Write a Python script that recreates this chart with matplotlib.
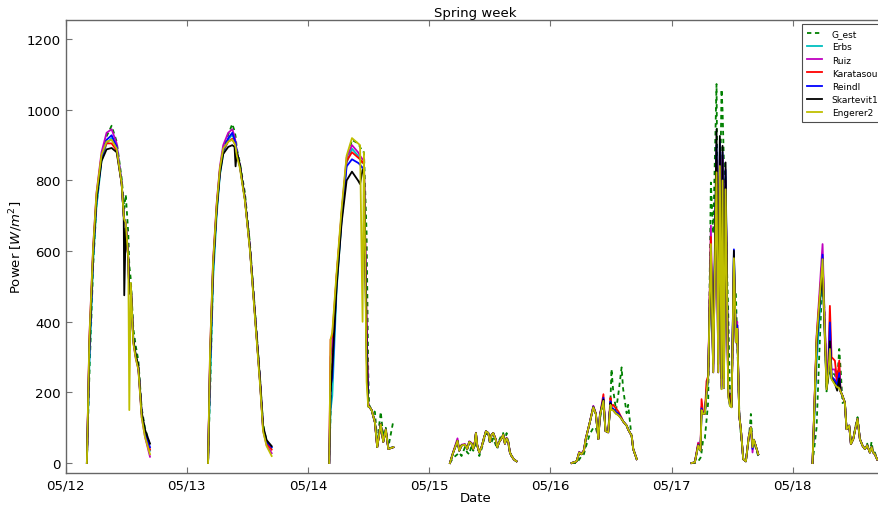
import numpy as np
import pandas as pd
import matplotlib
matplotlib.use('Agg')
import matplotlib.pyplot as plt
import matplotlib.dates as mdates

# --- data (hours of the day, W/m^2) ---
day_starts = pd.date_range('2015-05-12', periods=7, freq='D')
labels = ['G_est', 'Erbs', 'Ruiz', 'Karatasou', 'Reindl', 'Skartevit1', 'Engerer2']

# 05/12
d1_hours = [4.2, 4.7, 5.45, 6.1, 7.1, 8.1, 9.1, 10.1, 11.1, 11.5, 11.6, 11.9, 12.4, 12.6, 12.9, 13.4, 13.9, 14.4, 15.05, 15.7, 16.7]
d1_gest = [5, 250, 560, 730, 860, 925, 955, 910, 805, 740, 720, 760, 650, 560, 520, 380, 330, 290, 155, 100, 50]
d1_erbs = [0, 280, 570, 725, 855, 905, 920, 895, 790, 700, 690, 680, 580, 480, 505, 350, 300, 270, 140, 85, 35]
d1_ruiz = [0, 360, 615, 765, 880, 935, 945, 905, 790, 700, 690, 680, 580, 480, 500, 340, 295, 265, 130, 75, 18]
d1_kara = [0, 345, 605, 755, 870, 905, 905, 885, 790, 700, 690, 680, 580, 480, 505, 345, 300, 270, 140, 85, 38]
d1_reindl = [0, 320, 595, 745, 862, 915, 928, 895, 790, 700, 690, 680, 580, 480, 505, 345, 300, 270, 140, 88, 45]
d1_skart = [0, 330, 595, 745, 855, 888, 892, 880, 790, 700, 475, 665, 580, 480, 505, 350, 305, 275, 145, 95, 55]
d1_enger = [0, 355, 612, 762, 872, 910, 915, 890, 790, 700, 690, 680, 580, 150, 510, 340, 295, 265, 130, 75, 25]

# 05/13
d2_hours = [4.2, 4.6, 5.2, 5.9, 6.55, 7.2, 8.2, 9.0, 9.45, 9.65, 9.9, 10.5, 11.5, 12.5, 13.5, 14.5, 15.1, 15.8, 16.8]
d2_gest = [5, 200, 540, 720, 830, 890, 930, 960, 940, 925, 890, 850, 765, 620, 430, 240, 110, 60, 40]
d2_erbs = [0, 220, 520, 700, 815, 875, 915, 930, 915, 905, 880, 841, 747, 606, 417, 228, 100, 62, 45]
d2_ruiz = [0, 320, 575, 735, 840, 900, 935, 945, 925, 910, 880, 841, 747, 606, 417, 228, 92, 50, 28]
d2_kara = [0, 300, 565, 725, 830, 885, 910, 918, 905, 900, 875, 841, 747, 606, 417, 228, 96, 56, 38]
d2_reindl = [0, 280, 555, 720, 825, 885, 920, 935, 915, 905, 880, 841, 747, 606, 417, 228, 98, 60, 45]
d2_skart = [0, 290, 555, 715, 820, 875, 895, 900, 895, 840, 880, 845, 750, 610, 420, 235, 105, 65, 48]
d2_enger = [0, 320, 570, 730, 835, 890, 910, 915, 905, 895, 870, 835, 742, 600, 410, 220, 90, 48, 20]

# 05/14
d3_hours = [4.2, 4.47, 4.8, 5.66, 6.65, 7.64, 8.7, 9.9, 10.3, 10.8, 11.07, 11.6, 11.92, 12.1, 12.6, 13.25, 13.7, 14.4, 14.9, 15.4, 15.9, 16.9]
d3_gest = [0, 150, 280, 520, 700, 850, 915, 905, 895, 880, 880, 650, 260, 165, 150, 145, 60, 145, 75, 100, 45, 120]
d3_erbs = [0, 150, 190, 490, 690, 850, 890, 870, 860, 850, 850, 380, 170, 160, 150, 115, 50, 110, 65, 95, 42, 45]
d3_ruiz = [0, 300, 330, 530, 710, 865, 900, 880, 870, 860, 860, 360, 165, 160, 150, 115, 45, 110, 60, 95, 40, 45]
d3_kara = [0, 350, 360, 530, 705, 855, 880, 865, 860, 850, 860, 400, 170, 160, 150, 115, 45, 110, 60, 95, 40, 45]
d3_reindl = [0, 220, 240, 510, 690, 840, 860, 850, 845, 835, 840, 340, 165, 160, 150, 115, 45, 110, 60, 95, 40, 45]
d3_skart = [0, 200, 275, 500, 680, 800, 825, 800, 790, 830, 820, 300, 160, 160, 150, 115, 45, 110, 60, 95, 40, 45]
d3_enger = [0, 350, 370, 540, 720, 870, 920, 905, 900, 400, 880, 230, 160, 160, 150, 115, 45, 110, 60, 95, 40, 45]

# 05/15 (overcast, the models overlap)
d4_hours = [4.1, 4.75, 5.6, 5.95, 6.4, 7.07, 7.53, 7.93, 8.39, 8.72, 9.05, 9.25, 9.51, 9.91, 10.37, 10.83, 11.23,
            11.7, 12.02, 12.35, 12.68, 13.2, 13.47, 13.87, 14.33, 14.66, 14.99, 15.32, 15.65, 15.98, 16.31, 16.78, 17.3]
d4_gest = [0, 15, 25, 30, 20, 45, 30, 25, 50, 35, 45, 80, 55, 20, 40, 65, 85, 80, 55, 60, 70, 50, 40, 65, 80, 85, 60, 85, 55, 30, 20, 10, 5]
d4_models = [0, 30, 63, 35, 50, 52, 40, 60, 55, 40, 60, 85, 50, 30, 45, 70, 90, 85, 60, 80, 85, 65, 45, 60, 70, 80, 55, 70, 60, 30, 20, 10, 5]
d4_ruiz = [0, 32, 70, 37, 52, 54, 42, 62, 57, 42, 62, 86, 52, 31, 46, 71, 90, 85, 60, 80, 85, 68, 45, 60, 70, 80, 55, 72, 60, 30, 20, 10, 5]

# 05/16
d5_hours = [4.2, 5.2, 5.7, 6.17, 6.63, 7.0, 7.8, 8.5, 9.0, 9.5, 9.8, 10.5, 10.9, 11.45, 11.9, 12.1, 12.4, 13.0, 13.5,
            14.1, 14.4, 15.1, 15.4, 16.1, 16.4, 17.1]
d5_gest = [0, 0, 10, 20, 25, 45, 82, 100, 100, 70, 125, 175, 95, 90, 180, 266, 210, 150, 200, 271, 210, 141, 165, 70, 40, 10]
d5_erbs = [0, 5, 30, 25, 35, 68, 115, 158, 139, 68, 134, 178, 91, 87, 168, 152, 152, 142, 137, 125, 118, 106, 95, 77, 40, 11]
d5_ruiz = [0, 5, 32, 27, 38, 70, 115, 162, 140, 68, 135, 180, 91, 87, 170, 152, 152, 142, 137, 126, 118, 106, 95, 77, 40, 11]
d5_kara = [0, 5, 30, 25, 35, 68, 115, 160, 140, 68, 135, 195, 91, 87, 185, 160, 165, 155, 145, 128, 118, 106, 95, 77, 40, 11]
d5_reindl = [0, 5, 30, 25, 35, 68, 115, 160, 140, 68, 135, 185, 91, 87, 175, 155, 155, 145, 140, 126, 118, 106, 95, 77, 40, 11]
d5_skart = [0, 5, 30, 25, 35, 68, 115, 158, 139, 68, 134, 180, 91, 87, 170, 152, 150, 140, 136, 125, 118, 106, 95, 77, 40, 11]
d5_enger = [0, 5, 30, 25, 35, 68, 115, 158, 139, 68, 134, 176, 91, 87, 165, 150, 150, 140, 135, 125, 118, 106, 95, 77, 40, 11]

# 05/17
d6_hours = [3.95, 4.6, 5.27, 5.73, 5.93, 6.26, 6.59, 6.92, 7.25, 7.78, 8.24, 8.9, 9.23, 9.56, 9.89, 10.09, 10.36,
            10.69, 11.22, 11.55, 11.88, 12.34, 12.73, 13.0, 13.4, 13.72, 14.19, 14.71, 15.31, 15.7, 16.03, 16.3, 17.16]
d6_gest = [0, 0, 5, 15, 30, 68, 70, 120, 173, 794, 650, 1073, 500, 700, 1058, 1000, 850, 700, 420, 200, 180, 500, 480,
           350, 150, 80, 15, 5, 70, 139, 50, 60, 20]
d6_erbs = [0, 2, 50, 35, 150, 139, 140, 195, 240, 600, 257, 870, 257, 880, 210, 860, 212, 810, 190, 162, 158, 590, 342,
           385, 134, 96, 11, 5, 77, 101, 45, 66, 25]
d6_ruiz = [0, 2, 58, 38, 160, 139, 140, 210, 247, 672, 257, 860, 257, 880, 210, 870, 212, 800, 190, 165, 158, 570, 342,
           400, 134, 96, 11, 5, 77, 101, 30, 66, 25]
d6_kara = [0, 2, 55, 40, 181, 139, 140, 232, 247, 640, 257, 850, 257, 870, 220, 860, 215, 800, 200, 190, 165, 560, 342,
           390, 134, 96, 11, 5, 77, 101, 45, 66, 25]
d6_reindl = [0, 2, 52, 36, 155, 139, 140, 200, 247, 610, 257, 900, 257, 910, 215, 880, 212, 830, 195, 165, 160, 605, 342,
             390, 134, 96, 11, 5, 77, 101, 40, 66, 25]
d6_skart = [0, 2, 50, 35, 150, 139, 140, 200, 247, 600, 280, 945, 280, 926, 240, 898, 240, 851, 205, 170, 160, 601, 342,
            380, 134, 96, 11, 5, 77, 101, 49, 66, 25]
d6_enger = [0, 2, 50, 35, 150, 139, 140, 200, 247, 620, 257, 823, 257, 841, 209, 800, 212, 775, 190, 162, 158, 580, 342,
            380, 134, 96, 11, 5, 77, 101, 45, 66, 25]

# 05/18
d7_hours = [3.91, 4.71, 5.23, 5.9, 6.29, 6.69, 7.02, 7.35, 7.68, 8.34, 8.8, 9.2, 9.46, 9.86, 10.32, 10.65, 11.18,
            11.51, 11.97, 12.43, 12.83, 13.29, 13.82, 14.28, 14.74, 15.27, 15.6, 15.93, 16.26, 16.72]
d7_gest = [0, 100, 300, 540, 427, 203, 250, 257, 257, 250, 231, 323, 270, 170, 175, 96, 110, 60, 70, 105, 130, 68, 49,
           40, 55, 30, 60, 30, 30, 10]
d7_erbs = [0, 280, 400, 560, 390, 215, 245, 330, 240, 225, 215, 240, 203, 190, 170, 96, 106, 54, 68, 100, 125, 68, 49,
           40, 50, 30, 45, 30, 25, 10]
d7_ruiz = [0, 360, 470, 620, 420, 260, 265, 340, 265, 265, 225, 270, 203, 190, 170, 96, 106, 54, 68, 100, 125, 68, 49,
           40, 50, 30, 45, 30, 25, 10]
d7_kara = [0, 351, 450, 580, 400, 250, 270, 445, 300, 290, 231, 290, 203, 190, 170, 96, 106, 54, 68, 100, 125, 68, 49,
           40, 50, 30, 45, 30, 25, 10]
d7_reindl = [0, 330, 430, 590, 400, 230, 260, 398, 245, 235, 220, 255, 203, 190, 170, 96, 106, 54, 68, 100, 125, 68, 49,
             40, 50, 30, 45, 30, 25, 10]
d7_skart = [0, 340, 440, 540, 380, 209, 240, 345, 240, 225, 205, 240, 203, 190, 170, 96, 106, 54, 68, 100, 125, 68, 49,
            40, 50, 30, 45, 30, 25, 10]
d7_enger = [0, 351, 450, 577, 400, 209, 250, 323, 237, 222, 215, 212, 203, 190, 170, 96, 106, 54, 68, 100, 125, 68, 49,
            40, 50, 30, 45, 30, 25, 10]

day_hours = [d1_hours, d2_hours, d3_hours, d4_hours, d5_hours, d6_hours, d7_hours]
series = [
    [d1_gest, d2_gest, d3_gest, d4_gest, d5_gest, d6_gest, d7_gest],
    [d1_erbs, d2_erbs, d3_erbs, d4_models, d5_erbs, d6_erbs, d7_erbs],
    [d1_ruiz, d2_ruiz, d3_ruiz, d4_ruiz, d5_ruiz, d6_ruiz, d7_ruiz],
    [d1_kara, d2_kara, d3_kara, d4_models, d5_kara, d6_kara, d7_kara],
    [d1_reindl, d2_reindl, d3_reindl, d4_models, d5_reindl, d6_reindl, d7_reindl],
    [d1_skart, d2_skart, d3_skart, d4_models, d5_skart, d6_skart, d7_skart],
    [d1_enger, d2_enger, d3_enger, d4_models, d5_enger, d6_enger, d7_enger],
]

colors = [(0, 0.5, 0), (0, 0.75, 0.75), (0.75, 0, 0.75), (1, 0, 0), (0, 0, 1), (0, 0, 0), (0.75, 0.75, 0)]


def build(per_day):
    # join the days, with a NaN at night so the lines break
    t, v = [], []
    for start, hrs, vals in zip(day_starts, day_hours, per_day):
        t.extend(start + pd.to_timedelta(hrs, unit='h'))
        v.extend(vals)
        t.append(start + pd.Timedelta(hours=22))
        v.append(np.nan)
    return t, np.array(v, dtype=float)


plt.rcParams['font.family'] = 'DejaVu Sans'
plt.rcParams['font.size'] = 9.5

fig = plt.figure(figsize=(8.79, 5.06), dpi=100)
ax = fig.add_axes([0.0747, 0.0626, 0.933, 0.8964])

for i, (name, per_day) in enumerate(zip(labels, series)):
    t, v = build(per_day)
    if name == 'G_est':
        ax.plot(t, v, color=colors[i], lw=1.3, linestyle='--', dashes=(2.4, 2.0), label=name)
    else:
        ax.plot(t, v, color=colors[i], lw=1.3, label=name)

ax.set_xlim(pd.Timestamp('2015-05-12'), pd.Timestamp('2015-05-18 18:25'))
ax.set_ylim(-29, 1255)
ax.set_yticks([0, 200, 400, 600, 800, 1000, 1200])
ax.xaxis.set_major_locator(mdates.DayLocator())
ax.xaxis.set_major_formatter(mdates.DateFormatter('%m/%d'))

ax.tick_params(direction='in', top=True, right=True, length=4, width=0.8, color='0.45', labelsize=9.6)
for spine in ax.spines.values():
    spine.set_color('0.4')
    spine.set_linewidth(1.0)

ax.set_title('Spring week', fontsize=9.5, pad=3)
ax.set_xlabel('Date', fontsize=9.5, labelpad=0)
ax.set_ylabel('Power [$W/m^2$]', fontsize=9.5, labelpad=1)

# legend pinned at its upper-left corner, running off the right edge like the original
leg = ax.legend(loc='upper left', bbox_to_anchor=(802 / 879, 1 - 25 / 506), bbox_transform=fig.transFigure,
                borderaxespad=0, fontsize=6.5, fancybox=False, framealpha=1, edgecolor='0.3',
                handlelength=1.6, handletextpad=1.1, borderpad=0.6, labelspacing=0.45)
leg.get_frame().set_linewidth(0.8)

fig.savefig('out.png', dpi=100)
